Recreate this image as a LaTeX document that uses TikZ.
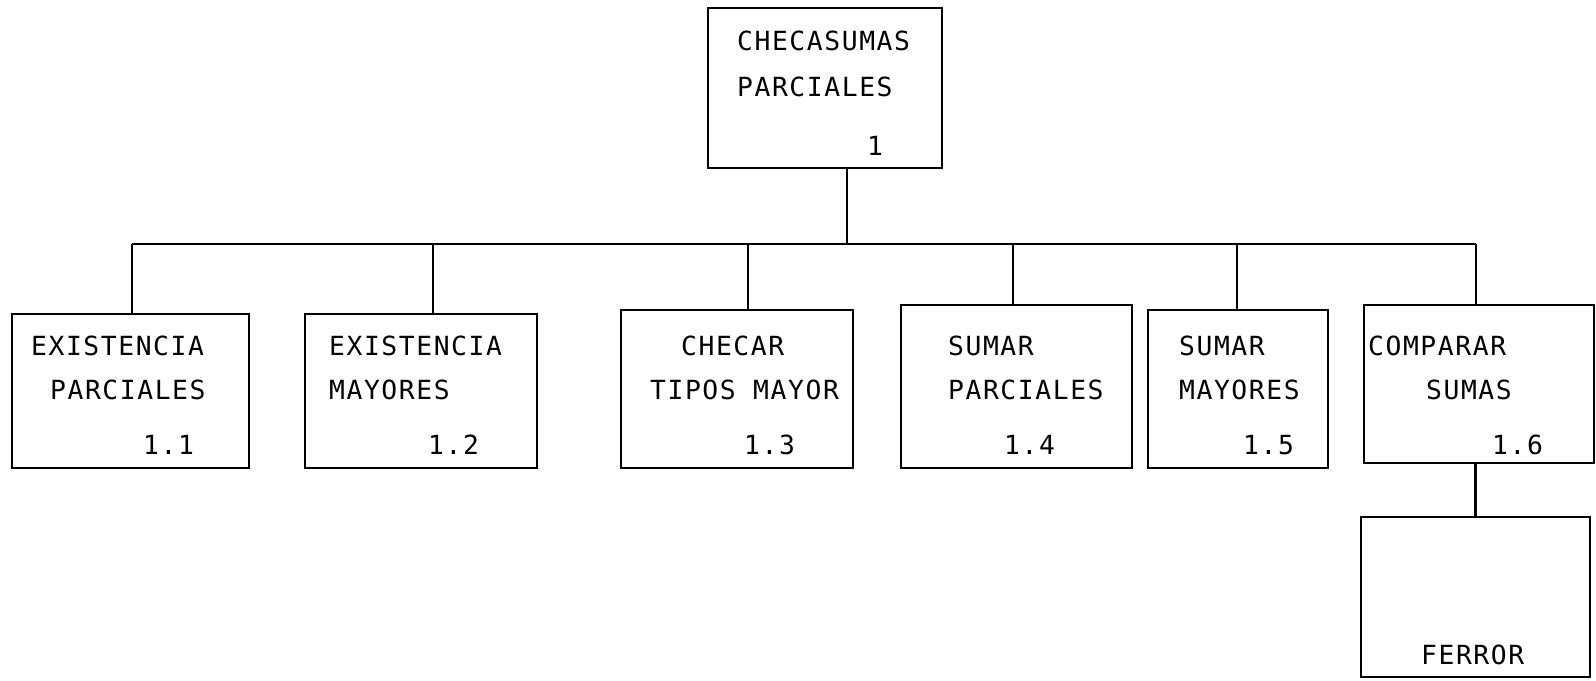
\documentclass[tikz,border=0pt]{standalone}
\usepackage{fontspec}
\newfontfamily\plotfont[LetterSpace=6]{DejaVu Sans Mono}
\usetikzlibrary{calc}

\begin{document}
\begin{tikzpicture}[x=0.02cm,y=-0.02cm,line width=1.3pt,
  caja/.style={draw,rectangle,inner sep=0pt},
  txt/.style={anchor=west,inner sep=0pt},
  font=\plotfont\fontsize{15}{18}\selectfont]
  \useasboundingbox (0,0) rectangle (1596,680);
  % cajas
  \foreach \n/\x/\y/\w/\h in {c1/825/88/234/160,c11/130.5/391/237/154,c12/421/391/232/154,
    c13/737/389/232/158,c14/1016.5/386.5/231/163,c15/1238/389/180/158,c16/1479/384/230/158,
    fe/1475.5/597/229/160}
    {\node[caja,minimum width=\w*0.02cm,minimum height=\h*0.02cm] (\n) at (\x,\y) {};}
  % textos
  \foreach \n/\x/\y/\t in {t1a/736/41/CHECASUMAS,t1b/736/87/PARCIALES,n1/866/146/1,
    t11a/30/346/EXISTENCIA,t11b/49/390/PARCIALES,n11/142/445/1.1,
    t12a/328/346/EXISTENCIA,t12b/328/390/MAYORES,n12/427/445/1.2,
    t13a/680/346/CHECAR,t13b/649/390/TIPOS MAYOR,n13/743/445/1.3,
    t14a/947/346/SUMAR,t14b/947/390/PARCIALES,n14/1003/445/1.4,
    t15a/1178/346/SUMAR,t15b/1178/390/MAYORES,n15/1242/445/1.5,
    t16a/1367/346/COMPARAR,t16b/1425/390/SUMAS,n16/1491/445/1.6,
    tfe/1420/655/FERROR}
    {\node[txt] (\n) at (\x,\y) {\t};}
  % lineas
  \coordinate (bus) at (847,244);
  \draw (c1.south -| bus) -- (bus);
  \foreach \n/\dx in {c11/1.5,c12/12,c13/11,c14/-3.5,c15/-1,c16/-3}
    {\coordinate (d\n) at ([shift={(\dx,0)}]\n.north);
     \draw (d\n) -- (d\n |- bus);}
  \draw (dc11 |- bus) -- (dc16 |- bus);
  \draw (c16.south -| fe.north) -- (fe.north);
\end{tikzpicture}
\end{document}
